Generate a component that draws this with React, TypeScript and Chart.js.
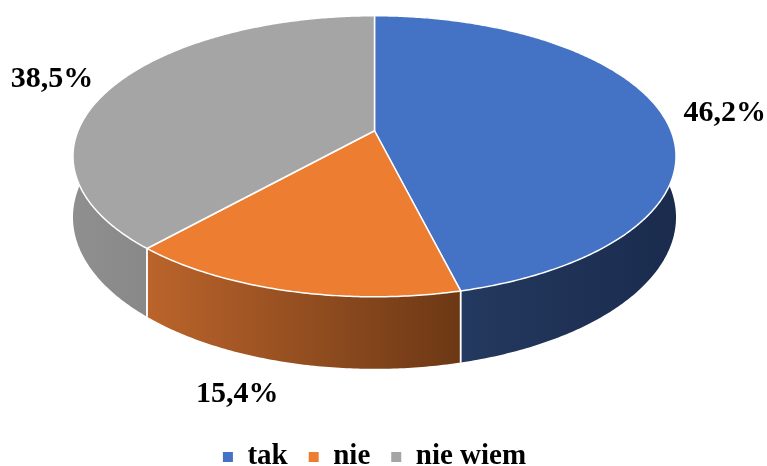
import React, { useEffect, useRef } from "react";
import { Chart, registerables } from "chart.js";

Chart.register(...registerables);

// ---- data ----
const categories = ["tak", "nie", "nie wiem"];
const values = [46.2, 15.4, 38.5];
const valueLabels = ["46,2%", "15,4%", "38,5%"];

// ---- styles ----
const topColors = ["#4472C4", "#ED7D31", "#A5A5A5"];
const wallLight = ["#24395f", "#bb642b", "#8f8f8f"];
const wallDark = ["#1a2b4d", "#6c3815", "#888888"];
const FONT_FAMILY = '"Liberation Serif", "Times New Roman", serif';

// perspective projection of the pie disc (style constants)
const KX = 296.5;
const KY = 135.9;
const PERSP = 0.1815;
const DEPTH = 59;
const APEX_DY = -80;
const LABEL_GAP = 21;
const LABEL_H = 25;

function project(cx: number, cy: number, phi: number, s: number, h: number): [number, number] {
  const u = Math.cos(phi) * s;
  const v = Math.sin(phi) * s;
  const w = 1 - PERSP * v;
  return [cx + (KX * u) / w, cy + (KY * v + h) / w];
}

function sample(a0: number, a1: number): number[] {
  const n = Math.max(2, Math.ceil((a1 - a0) / 0.01));
  const out: number[] = [];
  for (let k = 0; k <= n; k++) out.push(a0 + ((a1 - a0) * k) / n);
  return out;
}

function getArcs(chart: any) {
  const meta = chart.getDatasetMeta(0);
  return meta.data.map((el: any) => el.getProps(["x", "y", "startAngle", "endAngle"], true));
}

const clamp = (v: number) => Math.max(-1, Math.min(1, v));

const pie3d = {
  id: "pie3d",
  beforeDatasetsDraw(chart: any) {
    const ctx = chart.ctx as CanvasRenderingContext2D;
    const arcs = getArcs(chart);
    if (!arcs.length) return false;
    const cx = arcs[0].x;
    const cy = arcs[0].y + APEX_DY;
    ctx.save();
    // side walls
    arcs.forEach((a: any, i: number) => {
      const pts = sample(a.startAngle, a.endAngle);
      ctx.beginPath();
      pts.forEach((phi, k) => {
        const [x, y] = project(cx, cy, phi, 1, 0);
        if (k) ctx.lineTo(x, y);
        else ctx.moveTo(x, y);
      });
      for (let k = pts.length - 1; k >= 0; k--) {
        const [x, y] = project(cx, cy, pts[k], 1, DEPTH);
        ctx.lineTo(x, y);
      }
      ctx.closePath();
      const vis = pts.filter((p) => Math.sin(p) > -0.3).map((p) => project(cx, cy, p, 1, 0)[0]);
      let x0 = cx - 1;
      let x1 = cx + 1;
      if (vis.length) {
        x0 = Math.min(...vis);
        x1 = Math.max(...vis) + 0.1;
      }
      const g = ctx.createLinearGradient(x0, 0, x1, 0);
      g.addColorStop(0, wallLight[i]);
      g.addColorStop(1, wallDark[i]);
      ctx.fillStyle = g;
      ctx.fill();
    });
    // separators on the wall
    ctx.strokeStyle = "#ffffff";
    ctx.lineWidth = 1.5;
    arcs.forEach((a: any) => {
      [a.startAngle, a.endAngle].forEach((phi: number) => {
        if (Math.sin(phi) > 0.05) {
          const [xt, yt] = project(cx, cy, phi, 1, 0);
          const [xb, yb] = project(cx, cy, phi, 1, DEPTH);
          ctx.beginPath();
          ctx.moveTo(xt, yt);
          ctx.lineTo(xb, yb);
          ctx.stroke();
        }
      });
    });
    // top faces
    ctx.lineJoin = "round";
    arcs.forEach((a: any, i: number) => {
      const pts = sample(a.startAngle, a.endAngle);
      ctx.beginPath();
      ctx.moveTo(cx, cy);
      pts.forEach((phi) => {
        const [x, y] = project(cx, cy, phi, 1, 0);
        ctx.lineTo(x, y);
      });
      ctx.closePath();
      ctx.fillStyle = topColors[i];
      ctx.fill();
      ctx.strokeStyle = "#ffffff";
      ctx.lineWidth = 1.5;
      ctx.stroke();
    });
    // labels (outside end, box corner anchored)
    ctx.fillStyle = "#000000";
    ctx.font = `bold 30px ${FONT_FAMILY}`;
    ctx.textAlign = "center";
    ctx.textBaseline = "middle";
    arcs.forEach((a: any, i: number) => {
      const mid = (a.startAngle + a.endAngle) / 2;
      const sv = Math.sin(mid);
      const [ax, ay] = project(cx, cy, mid, 1, sv > 0 ? DEPTH : 0);
      let dx = Math.cos(mid) * KX;
      let dy = sv * KY;
      const len = Math.hypot(dx, dy) || 1;
      dx /= len;
      dy /= len;
      const w = ctx.measureText(valueLabels[i]).width;
      const px = ax + dx * LABEL_GAP + clamp(dx / 0.4) * (w / 2);
      const py = ay + dy * LABEL_GAP + clamp(dy / 0.6) * (LABEL_H / 2);
      ctx.fillText(valueLabels[i], px, py + 1);
    });
    ctx.restore();
    return false;
  },
};

export default function App() {
  const ref = useRef<HTMLCanvasElement | null>(null);
  useEffect(() => {
    if (!ref.current) return;
    const chart = new Chart(ref.current, {
      type: "pie",
      data: {
        labels: categories,
        datasets: [
          {
            data: values,
            backgroundColor: topColors,
            borderWidth: 0,
          },
        ],
      },
      options: {
        animation: false,
        responsive: true,
        maintainAspectRatio: false,
        layout: { padding: { right: 18, bottom: -15.5 } },
        plugins: {
          legend: {
            position: "bottom",
            labels: {
              boxWidth: 10,
              boxHeight: 10,
              padding: 21,
              color: "#000000",
              font: { family: FONT_FAMILY, size: 29, weight: "bold" },
            },
          },
          tooltip: { enabled: false },
        },
      },
      plugins: [pie3d],
    });
    return () => chart.destroy();
  }, []);
  return (
    <div style={{ position: "absolute", left: 0, top: 0, width: 767, height: 466, background: "#ffffff" }}>
      <canvas ref={ref} />
    </div>
  );
}
